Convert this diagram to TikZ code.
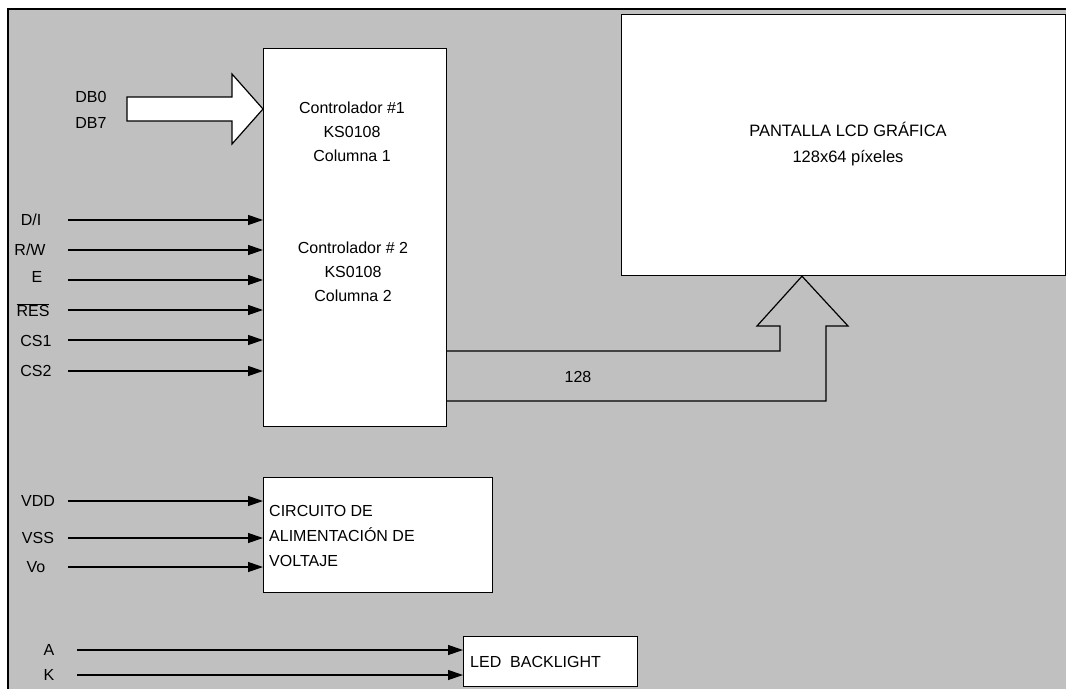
\documentclass[tikz,border=0pt]{standalone}
\usepackage{fontspec}
\setmainfont{Liberation Sans}
\usepackage{xcolor}
\usepackage{tikz}
\usetikzlibrary{arrows.meta, positioning, calc}
\definecolor{panelgray}{HTML}{C0C0C0}
\tikzset{
    block/.style={rectangle, draw, fill=white, line width=1.2pt, anchor=north west},
    txt/.style={font=\fontsize{16}{24}\selectfont, inner sep=0pt},
    pin/.style={font=\fontsize{16}{24}\selectfont, inner sep=0pt},
    sig/.style={-{Triangle[length=15pt, width=10pt]}, line width=1.2pt},
    bus/.style={line width=1.2pt, line join=miter},
}

\begin{document}
\begin{tikzpicture}[x=1pt, y=-1pt]
        \useasboundingbox (0,0) rectangle (1066,689);
        % Background panel
        \fill [panelgray] (8,9) rectangle (1066,689);
        \draw [line width=2.5pt] (1066,9) -- (8,9) -- (8,689);

        % Nodes
        \node [block, minimum width=183pt, minimum height=378pt] (ctrl) at (263,48) {};
        \node [block, minimum width=444pt, minimum height=261pt] (lcd) at (621,14) {};
        \node [block, minimum width=229pt, minimum height=115pt] (pwr) at (263,477) {};
        \node [block, minimum width=174pt, minimum height=50pt] (led) at (463,636) {};

        \node [txt, align=center] (ctrlA) at (352,132) {Controlador \#1\\KS0108\\Columna 1};
        \node [txt, align=center] (ctrlB) at (353,272) {Controlador \# 2\\KS0108\\Columna 2};
        \node [txt, align=center, font=\fontsize{16.5}{26}\selectfont] (lcdtxt) at (848,144) {PANTALLA LCD GRÁFICA\\128x64 píxeles};
        \node [txt, align=left, anchor=west, font=\fontsize{16}{25}\selectfont] (pwrtxt) at (269,536) {CIRCUITO DE\\ALIMENTACIÓN DE\\VOLTAJE};
        \node [txt, anchor=west] (ledtxt) at (470,662) {LED~~BACKLIGHT};
        \node [txt, align=center, font=\fontsize{16}{26}\selectfont] (db) at (91,110) {DB0\\DB7};
        \node [txt] (width) at (578,377) {128};

        % Edges
        \draw [bus, fill=white] (127,97) -- (232,97) -- (232,74) -- (ctrl.west |- 0,109)
            -- (232,144) -- (232,121) -- (127,121) -- cycle;
        \draw [bus] (ctrl.east |- 0,351) -- (780,351) -- (780,326) -- (757,326)
            -- (lcd.south -| 802,0) -- (848,326) -- (826,326) -- (826,401) -- (ctrl.east |- 0,401);

        \foreach \n/\t/\lx/\ly/\y in {di/{D/I}/31/220/220, rw/{R/W}/30/250/250, e/E/37/277/280,
                res/{$\overline{\mbox{RES}}$}/33/310/310, csa/CS1/36/341/340, csb/CS2/36/371/371} {
            \node [pin] (l\n) at (\lx,\ly) {\t};
            \coordinate (s\n) at (68,\y);
            \draw [sig] (s\n) -- (s\n -| ctrl.west);
        }
        \foreach \n/\t/\lx/\y in {vdd/VDD/38/501, vss/VSS/38/538, vo/Vo/36/567} {
            \node [pin] (l\n) at (\lx,\y) {\t};
            \coordinate (s\n) at (68,\y);
            \draw [sig] (s\n) -- (s\n -| pwr.west);
        }
        \foreach \n/\t/\y in {a/A/650, k/K/675} {
            \node [pin] (l\n) at (49,\y) {\t};
            \coordinate (s\n) at (77,\y);
            \draw [sig] (s\n) -- (s\n -| led.west);
        }
    \end{tikzpicture}
\end{document}
